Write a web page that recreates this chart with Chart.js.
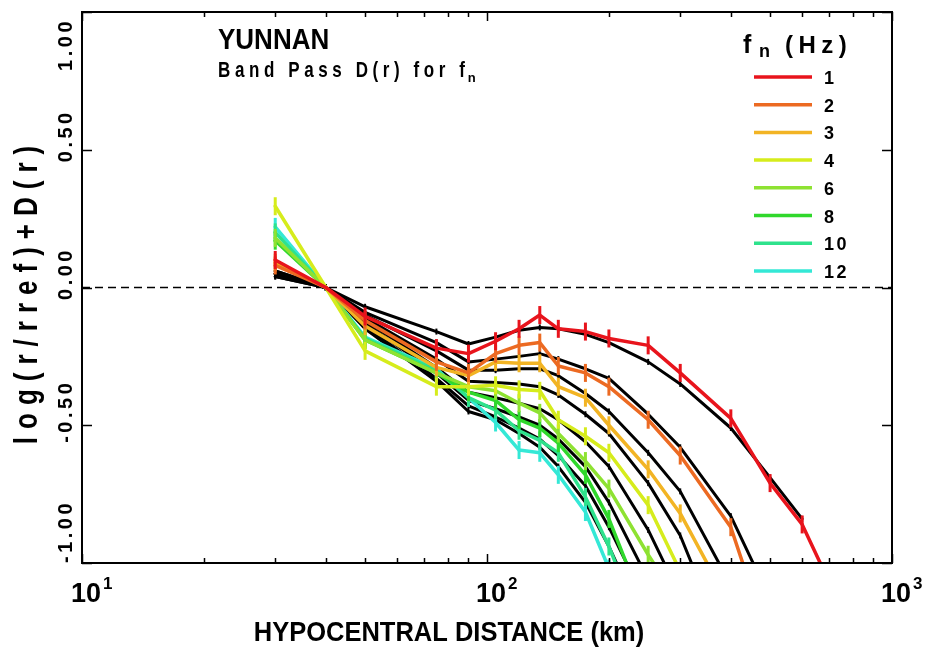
<!DOCTYPE html>
<html>
<head>
<meta charset="utf-8">
<title>Yunnan band pass D(r)</title>
<script src="https://cdn.jsdelivr.net/npm/chart.js@4.4.1/dist/chart.umd.min.js"></script>
<style>
    html, body { margin: 0; padding: 0; background: #fff; }
    #wrap { width: 931px; height: 647px; }
</style>
</head>
<body>
<div id="wrap"><canvas id="dChart" width="931" height="647"></canvas></div>
<script>
// hypocentral distances (km) of the bins
const distances = [30, 40, 50, 75, 90, 105, 120, 135, 150, 175, 200, 250, 300, 400, 500, 600, 700];

// band centre frequencies (Hz) and their colours
const freqs = ['1', '2', '3', '4', '6', '8', '10', '12'];
const freqColors = ['#e8141c', '#ec6a22', '#f2b424', '#d6ec1c', '#8ee232', '#30d82c', '#2ee28c', '#34e8d6'];

// observed log(r/rref)+D(r), one array per frequency
const obs1 = [0.10, 0.00, -0.105, -0.22, -0.24, -0.195, -0.15, -0.10, -0.15, -0.16, -0.185, -0.21, -0.31, -0.475, -0.71, -0.86, -1.07];
const obs2 = [0.08, 0.00, -0.12, -0.27, -0.31, -0.24, -0.21, -0.20, -0.285, -0.31, -0.36, -0.48, -0.61, -0.87, -1.30];
const obs3 = [0.09, 0.00, -0.14, -0.29, -0.32, -0.27, -0.275, -0.275, -0.36, -0.40, -0.50, -0.66, -0.82, -1.16];
const obs4 = [0.295, 0.00, -0.23, -0.36, -0.36, -0.355, -0.37, -0.375, -0.48, -0.54, -0.60, -0.79, -1.03];
const obs6 = [0.18, 0.00, -0.19, -0.31, -0.36, -0.375, -0.42, -0.455, -0.53, -0.63, -0.73, -0.97, -1.15];
const obs8 = [0.17, 0.00, -0.19, -0.31, -0.38, -0.41, -0.48, -0.51, -0.565, -0.68, -0.84, -1.20];
const obs10 = [0.20, 0.00, -0.185, -0.30, -0.40, -0.445, -0.52, -0.555, -0.60, -0.76, -0.94, -1.30];
const obs12 = [0.22, 0.00, -0.18, -0.295, -0.40, -0.49, -0.59, -0.60, -0.68, -0.815, -1.02];

// fitted model curves (black)
const fit1 = [0.06, 0.00, -0.07, -0.16, -0.205, -0.18, -0.155, -0.145, -0.15, -0.17, -0.20, -0.27, -0.35, -0.51, -0.69, -0.84];
const fit2 = [0.06, 0.00, -0.09, -0.20, -0.27, -0.26, -0.25, -0.24, -0.26, -0.295, -0.33, -0.46, -0.58, -0.83, -1.13];
const fit3 = [0.05, 0.00, -0.10, -0.23, -0.30, -0.30, -0.295, -0.295, -0.32, -0.385, -0.45, -0.60, -0.74, -1.08];
const fit4 = [0.05, 0.00, -0.11, -0.26, -0.34, -0.345, -0.35, -0.36, -0.39, -0.46, -0.53, -0.71, -0.90, -1.35];
const fit6 = [0.05, 0.00, -0.12, -0.29, -0.38, -0.40, -0.42, -0.44, -0.48, -0.56, -0.65, -0.88, -1.12];
const fit8 = [0.05, 0.00, -0.13, -0.31, -0.41, -0.44, -0.47, -0.50, -0.55, -0.65, -0.78, -1.06];
const fit10 = [0.04, 0.00, -0.14, -0.33, -0.43, -0.47, -0.51, -0.55, -0.61, -0.72, -0.87, -1.16];
const fit12 = [0.04, 0.00, -0.15, -0.34, -0.45, -0.48, -0.53, -0.58, -0.65, -0.78, -0.94, -1.25];

// axis ticks
const yTicks = [1.0, 0.5, 0.0, -0.5, -1.0];
const yTickLabels = ['1.00', '0.50', '0.00', '-0.50', '-1.00'];
const xDecades = [10, 100, 1000];
const xDecadeExp = ['1', '2', '3'];

const obsSeries = [obs1, obs2, obs3, obs4, obs6, obs8, obs10, obs12];
const fitSeries = [fit1, fit2, fit3, fit4, fit6, fit8, fit10, fit12];

const FONT = "'Liberation Sans', Arial, sans-serif";

/**
 * Draw a piece of text, optionally rotated / stretched / letter-spaced
 */
function drawText(ctx, text, x, y, o = {}) {
    ctx.save();
    ctx.translate(x, y);
    if (o.rotate) ctx.rotate(o.rotate);
    ctx.scale(1, o.stretch || 1);
    ctx.font = o.font;
    ctx.letterSpacing = (o.spacing || 0) + 'px';
    ctx.textAlign = o.align || 'left';
    ctx.textBaseline = 'alphabetic';
    ctx.fillStyle = '#000';
    ctx.fillText(text, 0, 0);
    const w = ctx.measureText(text).width;
    ctx.restore();
    return w;
}

const decorPlugin = {
    id: 'decor',

    // dashed zero line under the data
    beforeDatasetsDraw(chart) {
        const { ctx, chartArea: a, scales: { y } } = chart;
        const y0 = y.getPixelForValue(0);
        ctx.save();
        ctx.strokeStyle = '#000';
        ctx.lineWidth = 1.6;
        ctx.setLineDash([8, 5]);
        ctx.beginPath();
        ctx.moveTo(a.left, y0);
        ctx.lineTo(a.right, y0);
        ctx.stroke();
        ctx.restore();
    },

    afterDraw(chart) {
        const { ctx, chartArea: a, scales: { x, y } } = chart;
        ctx.save();

        // frame
        ctx.strokeStyle = '#000';
        ctx.lineWidth = 2;
        ctx.strokeRect(a.left, a.top, a.right - a.left, a.bottom - a.top);

        // inward x ticks, top and bottom
        ctx.lineWidth = 1.5;
        ctx.beginPath();
        for (let dec = 10; dec < 1000; dec *= 10) {
            for (let m = 1; m <= 10; m++) {
                const px = Math.round(x.getPixelForValue(dec * m)) + 0.5;
                const len = (m === 1 || m === 10) ? 9 : 5;
                ctx.moveTo(px, a.bottom); ctx.lineTo(px, a.bottom - len);
                ctx.moveTo(px, a.top); ctx.lineTo(px, a.top + len);
            }
        }
        // inward y ticks, left and right
        yTicks.forEach(v => {
            const py = Math.round(y.getPixelForValue(v)) + 0.5;
            ctx.moveTo(a.left, py); ctx.lineTo(a.left + 10, py);
            ctx.moveTo(a.right, py); ctx.lineTo(a.right - 10, py);
        });
        ctx.stroke();

        // y tick labels, rotated
        const rot = -Math.PI / 2;
        yTicks.forEach((v, i) => {
            const py = y.getPixelForValue(v);
            let yy = py - 14, align = 'center';
            if (i === 0) { yy = a.top + 6; align = 'right'; }
            if (i === yTicks.length - 1) { yy = a.bottom; align = 'left'; }
            drawText(ctx, yTickLabels[i], 72, yy, { rotate: rot, font: `bold 20px ${FONT}`, spacing: 3.5, align, stretch: 1.05 });
        });

        // x tick labels 10^n
        xDecades.forEach((v, i) => {
            const px = x.getPixelForValue(v) + 4;
            ctx.font = `bold 27px ${FONT}`;
            const w = ctx.measureText('10').width;
            drawText(ctx, '10', px, 602, { font: `bold 27px ${FONT}`, align: 'center', stretch: 1.05 });
            drawText(ctx, xDecadeExp[i], px + w / 2 + 2, 589, { font: `bold 17px ${FONT}` });
        });

        // axis titles
        drawText(ctx, 'HYPOCENTRAL DISTANCE (km)', 449, 641, { font: `bold 25.5px ${FONT}`, align: 'center', stretch: 1.1 });
        drawText(ctx, 'log(r/rref)+D(r)', 37, 291, { rotate: rot, font: `bold 26px ${FONT}`, spacing: 8, align: 'center', stretch: 1.25 });

        // titles inside the plot
        drawText(ctx, 'YUNNAN', 218, 49, { font: `bold 26px ${FONT}`, stretch: 1.12 });
        const sw = drawText(ctx, 'Band Pass D(r) for f', 218, 77, { font: `bold 17px ${FONT}`, spacing: 4.6, stretch: 1.25 });
        drawText(ctx, 'n', 218 + sw - 2, 82, { font: `bold 13px ${FONT}` });

        // legend
        drawText(ctx, 'f', 743, 53, { font: `bold 25px ${FONT}` });
        drawText(ctx, 'n', 759, 57, { font: `bold 18px ${FONT}` });
        drawText(ctx, '(Hz)', 785, 53, { font: `bold 24px ${FONT}`, spacing: 5.5 });
        freqs.forEach((f, i) => {
            const ly = 77 + i * 27.7;
            ctx.strokeStyle = freqColors[i];
            ctx.lineWidth = 3.5;
            ctx.beginPath();
            ctx.moveTo(754, ly);
            ctx.lineTo(812, ly);
            ctx.stroke();
            drawText(ctx, f, 824, ly + 7, { font: `bold 18px ${FONT}`, spacing: 2.5 });
        });

        ctx.restore();
    }
};

const YunnanChart = {
    /**
     * Build observed (coloured, with error bars) and fitted (black) datasets
     */
    buildDatasets() {
        const sets = [];
        freqs.forEach((f, i) => {
            sets.push({
                label: `${f} Hz`,
                data: obsSeries[i].map((v, k) => ({ x: distances[k], y: v })),
                borderColor: freqColors[i],
                borderWidth: 3.5,
                pointStyle: 'line',
                rotation: 90,
                pointRadius: (c) => (c.raw && c.raw.x === 40 ? 0 : 9),
                pointBorderWidth: 3,
                pointBorderColor: freqColors[i],
                order: 1
            });
            sets.push({
                label: `${f} Hz fit`,
                data: fitSeries[i].map((v, k) => ({ x: distances[k], y: v })),
                borderColor: '#000',
                borderWidth: 3,
                pointStyle: 'line',
                rotation: 90,
                pointRadius: 3,
                pointBorderWidth: 2,
                pointBorderColor: '#000',
                order: 2
            });
        });
        return sets;
    },

    init() {
        const ctx = document.getElementById('dChart').getContext('2d');
        this.chart = new Chart(ctx, {
            type: 'line',
            data: { datasets: this.buildDatasets() },
            options: {
                responsive: false,
                animation: false,
                devicePixelRatio: 1,
                clip: 0,
                layout: { padding: { left: 82, right: 39, top: 7, bottom: 84 } },
                elements: { line: { tension: 0, borderJoinStyle: 'round', borderCapStyle: 'round' } },
                plugins: { legend: { display: false }, tooltip: { enabled: false } },
                scales: {
                    x: { type: 'logarithmic', min: 10, max: 1000, display: false },
                    y: { type: 'linear', min: -1, max: 1, display: false }
                }
            },
            plugins: [decorPlugin]
        });
    }
};

YunnanChart.init();
</script>
</body>
</html>
